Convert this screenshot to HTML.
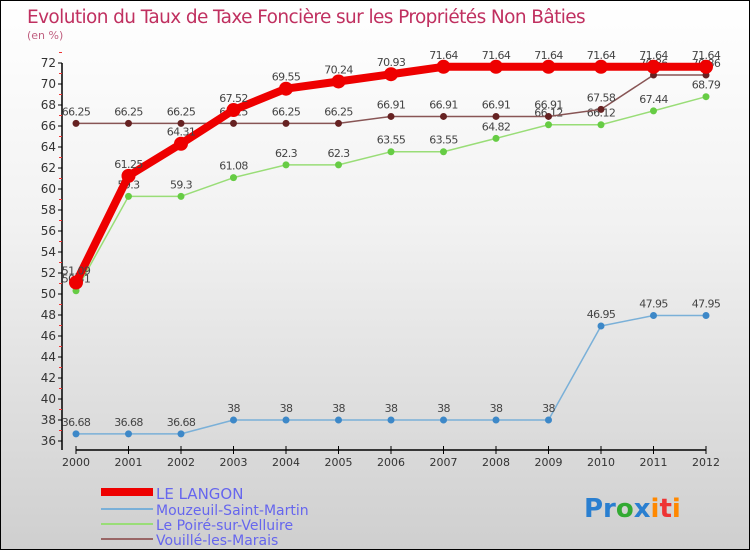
<!DOCTYPE html>
<html><head><meta charset="utf-8"><style>
body{margin:0}
#c{position:relative;width:748px;height:548px;border:1px solid #000;background:linear-gradient(#fff 0%,#f2f2f2 40%,#cfcfcf 100%);font-family:"DejaVu Sans","Liberation Sans",sans-serif;overflow:hidden}
svg text{font-family:"DejaVu Sans","Liberation Sans",sans-serif}
</style></head><body>
<div id="c">
<svg id="s" width="748" height="548" xmlns="http://www.w3.org/2000/svg">
<text x="26" y="22" font-size="18.5" fill="#c03060" letter-spacing="-0.6">Evolution du Taux de Taxe Foncière sur les Propriétés Non Bâties</text>
<text x="26" y="38" font-size="11" fill="#c06080">(en %)</text>
<g id="axes"></g><g id="series"></g>
<g>
<rect x="100" y="487" width="52" height="8" fill="#e00"/>
<text x="155" y="498" font-size="15" fill="#6666ee">LE LANGON</text>
<line x1="100" y1="508" x2="152" y2="508" stroke="#7ab0d8" stroke-width="2"/>
<text x="155" y="514" font-size="14" fill="#6666ee">Mouzeuil-Saint-Martin</text>
<line x1="100" y1="523" x2="152" y2="523" stroke="#99dd77" stroke-width="2"/>
<text x="155" y="529" font-size="14" fill="#6666ee">Le Poiré-sur-Velluire</text>
<line x1="100" y1="538" x2="152" y2="538" stroke="#996666" stroke-width="2"/>
<text x="155" y="544" font-size="14" fill="#6666ee">Vouillé-les-Marais</text>
</g>
<text x="583" y="516" font-size="26" font-weight="bold"><tspan fill="#2a7fd0">Pr</tspan><tspan fill="#3a3">o</tspan><tspan fill="#2a7fd0">x</tspan><tspan fill="#f80">i</tspan><tspan fill="#e33">t</tspan><tspan fill="#f80">i</tspan></text>
</svg></div>
<script>
const years=[2000,2001,2002,2003,2004,2005,2006,2007,2008,2009,2010,2011,2012];
const yTicks=[36,38,40,42,44,46,48,50,52,54,56,58,60,62,64,66,68,70,72];
const langon=[51.09,61.25,64.31,67.52,69.55,70.24,70.93,71.64,71.64,71.64,71.64,71.64,71.64];
const mouzeuil=[36.68,36.68,36.68,38,38,38,38,38,38,38,46.95,47.95,47.95];
const poire=[50.31,59.3,59.3,61.08,62.3,62.3,63.55,63.55,64.82,66.12,66.12,67.44,68.79];
const vouille=[66.25,66.25,66.25,66.25,66.25,66.25,66.91,66.91,66.91,66.91,67.58,70.86,70.86];
const NS="http://www.w3.org/2000/svg";
const X=i=>75+i*(630/12), Y=v=>440-(v-36)*(378/36);
function mk(t,a,p){const e=document.createElementNS(NS,t);for(const k in a)e.setAttribute(k,a[k]);p.appendChild(e);return e;}
const ax=document.getElementById('axes');
mk('line',{x1:61,y1:Y(72),x2:61,y2:449,stroke:'#000','stroke-width':1.5},ax);
mk('line',{x1:X(0),y1:449,x2:X(12),y2:449,stroke:'#000','stroke-width':1.5},ax);
yTicks.forEach(v=>{
 mk('line',{x1:57,y1:Y(v),x2:61,y2:Y(v),stroke:'#000'},ax);
 mk('line',{x1:58,y1:Y(v+1),x2:61,y2:Y(v+1),stroke:'#e33'},ax);
 const t=mk('text',{x:55,y:Y(v)+4,'font-size':12,fill:'#333','text-anchor':'end'},ax);t.textContent=v;
 
 
});
years.forEach((y,i)=>{
 mk('line',{x1:X(i),y1:445,x2:X(i),y2:453,stroke:'#000'},ax);
 const t=mk('text',{x:X(i),y:465,'font-size':11,fill:'#333','text-anchor':'middle'},ax);t.textContent=y;
 
 
});
const sg=document.getElementById('series');
function series(d,name,col,dot,w,r){
 const g=mk('g',{},sg);
 
 
 mk('polyline',{points:d.map((v,i)=>X(i)+','+Y(v)).join(' '),fill:'none',stroke:col,'stroke-width':w,'stroke-linejoin':'round'},g);
 d.forEach((v,i)=>{
  const c=mk('circle',{cx:X(i),cy:Y(v),r:r,fill:dot},g);
  
  
  const t=mk('text',{x:X(i),y:Y(v)-8,'font-size':11,fill:'#444','text-anchor':'middle','letter-spacing':'-0.6'},g);
  t.textContent=String(v);
  
  
 });
}
series(mouzeuil,'mouzeuil','#7ab0d8','#3d88c8',1.5,3.5);
series(poire,'le-poire','#99dd77','#66cc44',1.5,3.5);
series(vouille,'vouille','#885555','#662222',1.5,3.5);
series(langon,'le-langon','#ee0000','#ee0000',8,7);
</script>
</body></html>
